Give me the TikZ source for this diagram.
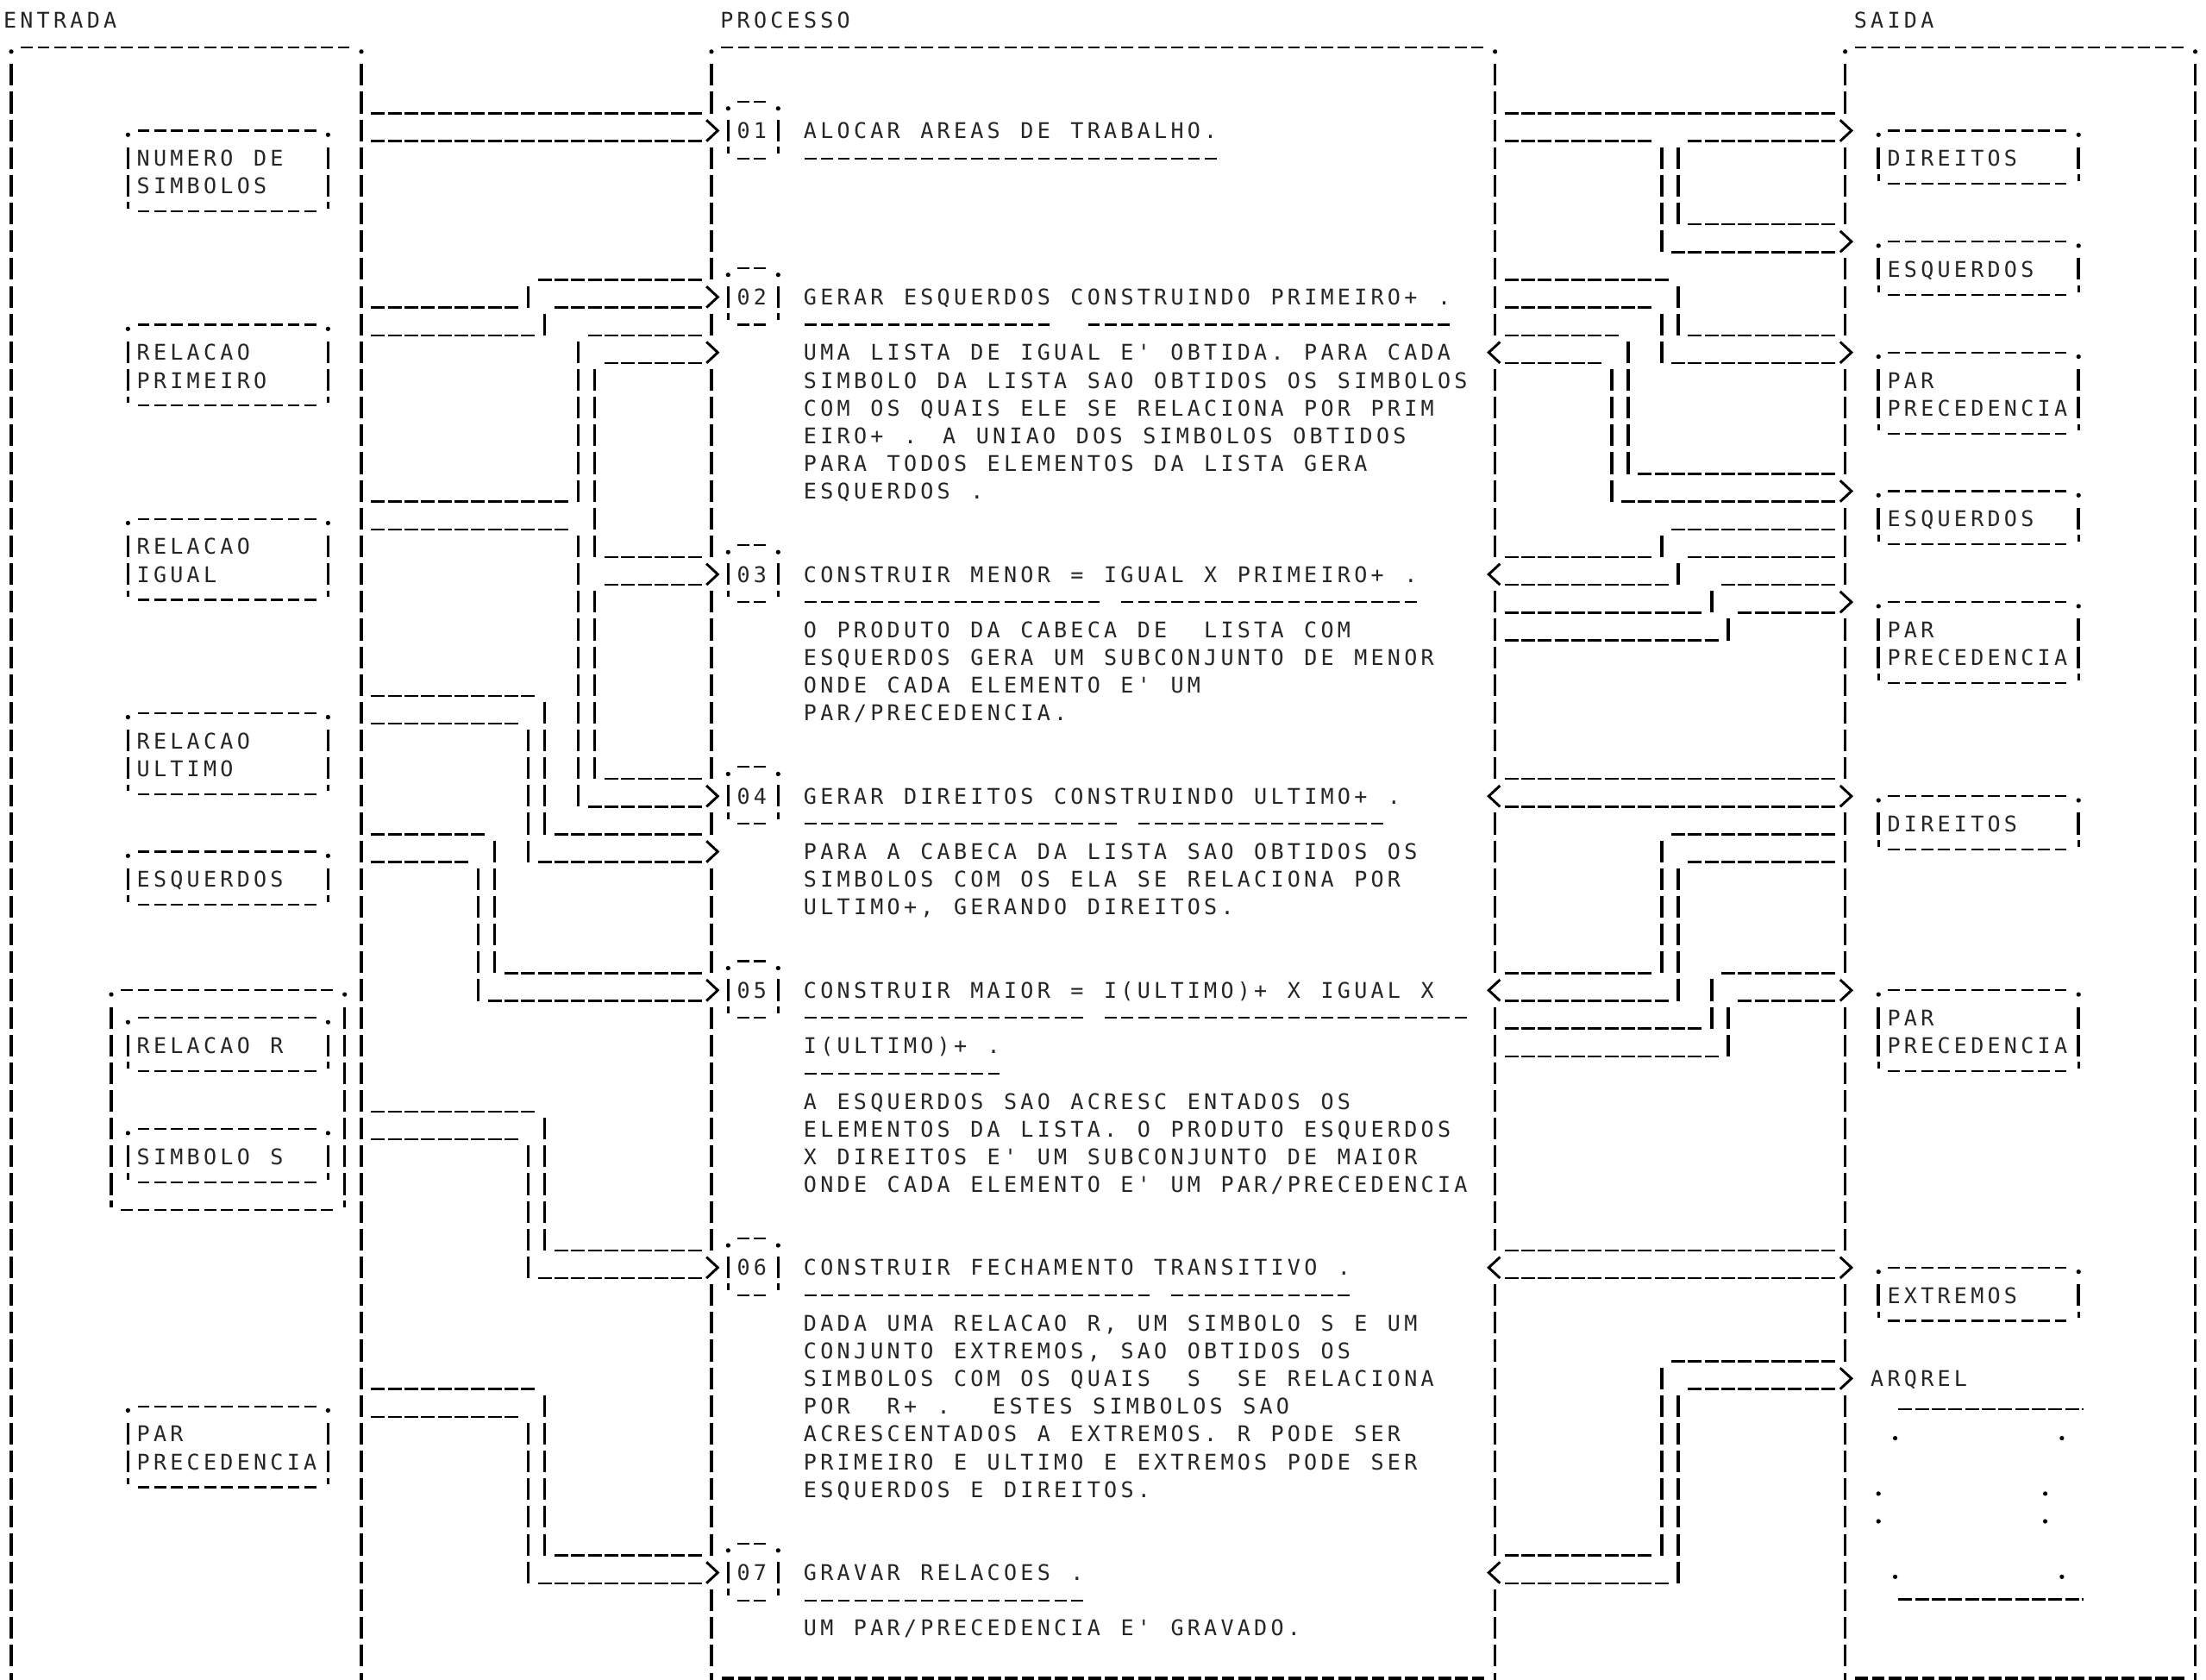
\documentclass[tikz,border=0pt]{standalone}
\usepackage{fontspec}
\newfontfamily\pf[LetterSpace=17]{DejaVu Sans Mono}
\newcommand\XS{\kern5.925pt}
\tikzset{
  vb/.style={line width=1.1pt, dash pattern=on 7.7pt off 2.155pt},
  hu/.style={line width=0.75pt, dash pattern=on 4.9pt off 1.025pt},
  bl/.style={line width=0.65pt, dash pattern=on 4.2pt off 1.725pt},
  heavy/.style={line width=1.3pt, dash pattern=on 4.5pt off 1.425pt},
  chev/.style={line width=0.9pt, line join=miter},
  tk/.style={line width=1pt},
  txt/.style={anchor=base west, inner sep=0pt, text=black!85,
    font={\pf\fontsize{7.68pt}{9.855pt}\selectfont\spaceskip 7.231pt\relax}}
}
% underscore line cols #1..#2 under row #3
\newcommand\HU[3]{\draw[hu] ({#1-0.42},{#3+0.38}) -- ({#2+0.42},{#3+0.38});}
% vertical bars col #1 rows #2..#3
\newcommand\VB[3]{\draw[vb] ({#1},{#2-0.4}) -- ({#1},{#3+0.4});}
\newcommand\RA[2]{\draw[chev] ({#1-0.3},{#2-0.38}) -- ({#1+0.38},{#2}) -- ({#1-0.3},{#2+0.38});}
\newcommand\LA[2]{\draw[chev] ({#1+0.3},{#2-0.38}) -- ({#1-0.38},{#2}) -- ({#1+0.3},{#2+0.38});}
\newcommand\BL[3]{\draw[bl] ({#1-0.42},{#3}) -- ({#2+0.42},{#3});}
\newcommand\DOT[2]{\fill ({#1},{#2}) circle[radius=0.8pt];}
\newcommand\TCK[2]{\draw[tk] ({#1},{#2-0.42}) -- ({#1},{#2-0.18});}
\newcommand\BOX[4]{%
  \BL{#1+1}{#3-1}{#2}%
  \DOT{#1}{#2+0.15}\DOT{#3}{#2+0.15}%
  \VB{#1}{#2+1}{#4-1}\VB{#3}{#2+1}{#4-1}%
  \BL{#1+1}{#3-1}{#4-0.08}%
  \TCK{#1}{#4}\TCK{#3}{#4}}
\newcommand\TX[4]{\node[txt] (#1) at ({#2-0.5},{#3+0.285}) {#4};}
\newcommand\STEP[3]{%
  \DOT{43}{#3-1+0.2}\DOT{46}{#3-1+0.2}%
  \draw[bl] (43.55,{#3-1.05}) -- (45.45,{#3-1.05});%
  \VB{43}{#3}{#3}\VB{46}{#3}{#3}%
  \node[txt] (#1) at (43.5,{#3+0.285}) {#2};%
  \TCK{43}{#3+1}\TCK{46}{#3+1}%
  \draw[bl] (43.55,{#3+1}) -- (45.45,{#3+1});}
\begin{document}
\begin{tikzpicture}[x=5.925pt, y=-9.855pt]
\fill[white] (-0.675,-0.710) rectangle (131.646,59.868);
\useasboundingbox (-0.675,-0.710) rectangle (131.646,59.868);

% ---------- titles ----------
\TX{tEnt}{0}{0}{ENTRADA}
\TX{tPro}{43}{0}{PROCESSO}
\TX{tSai}{111}{0}{SAIDA}

% ---------- frames ----------
\foreach \a/\b in {0/21, 42/89, 110/131}{
  \BL{\a+1}{\b-1}{1}
  \DOT{\a}{1.15}\DOT{\b}{1.15}
}
\VB{0}{2}{59}\VB{21}{2}{59}\VB{131}{2}{59}
\foreach \a/\b in {2/3,5/9,11/11,13/19,21/27,29/29,31/34,36/44,46/55,57/59}{\VB{42}{\a}{\b}}
\foreach \a/\b in {2/11,13/19,21/27,29/34,36/44,46/55,57/59}{\VB{89}{\a}{\b}}
\foreach \a/\b in {2/3,5/7,9/11,13/16,18/20,22/27,29/34,36/44,46/48,50/59}{\VB{110}{\a}{\b}}
\foreach \c in {0,21,42,89,110,131}{\draw[tk] (\c,59.62) -- (\c,59.87);}
\draw[heavy] (42.6,59.8) -- (88.4,59.8);
\draw[heavy] (110.6,59.8) -- (130.4,59.8);

% ---------- input boxes ----------
\BOX{7}{4}{19}{7}
\TX{eNum1}{8}{5}{NUMERO DE}
\TX{eNum2}{8}{6}{SIMBOLOS}
\BOX{7}{11}{19}{14}
\TX{ePri1}{8}{12}{RELACAO}
\TX{ePri2}{8}{13}{PRIMEIRO}
\BOX{7}{18}{19}{21}
\TX{eIgu1}{8}{19}{RELACAO}
\TX{eIgu2}{8}{20}{IGUAL}
\BOX{7}{25}{19}{28}
\TX{eUlt1}{8}{26}{RELACAO}
\TX{eUlt2}{8}{27}{ULTIMO}
\BOX{7}{30}{19}{32}
\TX{eEsq}{8}{31}{ESQUERDOS}
\BOX{6}{35}{20}{43}
\BOX{7}{36}{19}{38}
\TX{eRel}{8}{37}{RELACAO R}
\BOX{7}{40}{19}{42}
\TX{eSim}{8}{41}{SIMBOLO S}
\BOX{7}{50}{19}{53}
\TX{ePar1}{8}{51}{PAR}
\TX{ePar2}{8}{52}{PRECEDENCIA}

% ---------- output boxes ----------
\BOX{112}{4}{124}{6}
\TX{sDir1}{113}{5}{DIREITOS}
\BOX{112}{8}{124}{10}
\TX{sEsq1}{113}{9}{ESQUERDOS}
\BOX{112}{12}{124}{15}
\TX{sPar1a}{113}{13}{PAR}
\TX{sPar1b}{113}{14}{PRECEDENCIA}
\BOX{112}{17}{124}{19}
\TX{sEsq2}{113}{18}{ESQUERDOS}
\BOX{112}{21}{124}{24}
\TX{sPar2a}{113}{22}{PAR}
\TX{sPar2b}{113}{23}{PRECEDENCIA}
\BOX{112}{28}{124}{30}
\TX{sDir2}{113}{29}{DIREITOS}
\BOX{112}{35}{124}{38}
\TX{sPar3a}{113}{36}{PAR}
\TX{sPar3b}{113}{37}{PRECEDENCIA}
\BOX{112}{45}{124}{47}
\TX{sExt}{113}{46}{EXTREMOS}
\TX{sArq}{112}{49}{ARQREL}
% file symbol
\draw[hu] (113.2,50.1) -- (124.3,50.1);
\DOT{113}{51.15}\DOT{123}{51.15}
\DOT{112}{53.15}\DOT{122}{53.15}
\DOT{112}{54.15}\DOT{122}{54.15}
\DOT{113}{56.15}\DOT{123}{56.15}
\draw[hu] (113.2,56.97) -- (124.3,56.97);

% ---------- process steps ----------
\STEP{p01}{01}{4}
\TX{p01t}{48}{4}{ALOCAR AREAS DE TRABALHO.}
\BL{48}{72}{5}

\STEP{p02}{02}{10}
\TX{p02t}{48}{10}{GERAR ESQUERDOS CONSTRUINDO PRIMEIRO+ .}
\BL{48}{62}{11}\BL{65}{86}{11}
\TX{p02a}{48}{12}{UMA LISTA DE IGUAL E' OBTIDA. PARA CADA}
\TX{p02b}{48}{13}{SIMBOLO DA LISTA SAO OBTIDOS OS SIMBOLOS}
\TX{p02c}{48}{14}{COM OS QUAIS ELE SE RELACIONA POR PRIM}
\TX{p02d}{48}{15}{EIRO+ . A UNIAO DOS SIMBOLOS OBTIDOS}
\TX{p02e}{48}{16}{PARA TODOS ELEMENTOS DA LISTA GERA}
\TX{p02f}{48}{17}{ESQUERDOS .}

\STEP{p03}{03}{20}
\TX{p03t}{48}{20}{CONSTRUIR MENOR = IGUAL X PRIMEIRO+ .}
\BL{48}{65}{21}\BL{67}{84}{21}
\TX{p03a}{48}{22}{O PRODUTO DA CABECA DE \XS LISTA COM}
\TX{p03b}{48}{23}{ESQUERDOS GERA UM SUBCONJUNTO DE MENOR}
\TX{p03c}{48}{24}{ONDE CADA ELEMENTO E' UM}
\TX{p03d}{48}{25}{PAR/PRECEDENCIA.}

\STEP{p04}{04}{28}
\TX{p04t}{48}{28}{GERAR DIREITOS CONSTRUINDO ULTIMO+ .}
\BL{48}{66}{29}\BL{68}{82}{29}
\TX{p04a}{48}{30}{PARA A CABECA DA LISTA SAO OBTIDOS OS}
\TX{p04b}{48}{31}{SIMBOLOS COM OS ELA SE RELACIONA POR}
\TX{p04c}{48}{32}{ULTIMO+, GERANDO DIREITOS.}

\STEP{p05}{05}{35}
\TX{p05t}{48}{35}{CONSTRUIR MAIOR = I(ULTIMO)+ X IGUAL X}
\BL{48}{64}{36}\BL{66}{87}{36}
\TX{p05u}{48}{37}{I(ULTIMO)+ .}
\BL{48}{59}{38}
\TX{p05a}{48}{39}{A ESQUERDOS SAO ACRESC ENTADOS OS}
\TX{p05b}{48}{40}{ELEMENTOS DA LISTA. O PRODUTO ESQUERDOS}
\TX{p05c}{48}{41}{X DIREITOS E' UM SUBCONJUNTO DE MAIOR}
\TX{p05d}{48}{42}{ONDE CADA ELEMENTO E' UM PAR/PRECEDENCIA}

\STEP{p06}{06}{45}
\TX{p06t}{48}{45}{CONSTRUIR FECHAMENTO TRANSITIVO .}
\BL{48}{68}{46}\BL{70}{80}{46}
\TX{p06a}{48}{47}{DADA UMA RELACAO R, UM SIMBOLO S E UM}
\TX{p06b}{48}{48}{CONJUNTO EXTREMOS, SAO OBTIDOS OS}
\TX{p06c}{48}{49}{SIMBOLOS COM OS QUAIS \XS S \XS SE RELACIONA}
\TX{p06d}{48}{50}{POR \XS R+ . \XS ESTES SIMBOLOS SAO}
\TX{p06e}{48}{51}{ACRESCENTADOS A EXTREMOS. R PODE SER}
\TX{p06f}{48}{52}{PRIMEIRO E ULTIMO E EXTREMOS PODE SER}
\TX{p06g}{48}{53}{ESQUERDOS E DIREITOS.}

\STEP{p07}{07}{56}
\TX{p07t}{48}{56}{GRAVAR RELACOES .}
\BL{48}{64}{57}
\TX{p07a}{48}{58}{UM PAR/PRECEDENCIA E' GRAVADO.}

% ---------- input arrows ----------
% NUMERO DE SIMBOLOS -> 01
\HU{22}{41}{3}\HU{22}{41}{4}\RA{42}{4}
% PRIMEIRO -> 02
\HU{22}{30}{10}\VB{31}{10}{10}\HU{32}{41}{9}
\HU{22}{31}{11}\VB{32}{11}{11}\HU{33}{41}{10}\RA{42}{10}
% IGUAL -> 02 / 03 / 04
\HU{22}{33}{17}\VB{34}{12}{17}\HU{35}{41}{11}\RA{42}{12}
\HU{36}{41}{12}\VB{35}{13}{19}\HU{36}{41}{19}\RA{42}{20}
\HU{36}{41}{20}\VB{35}{21}{27}\HU{36}{41}{27}\RA{42}{28}
\HU{22}{33}{18}\VB{34}{19}{28}\HU{35}{41}{28}
% ULTIMO -> 04
\HU{22}{31}{24}\VB{32}{25}{29}\HU{33}{41}{29}
\HU{22}{30}{25}\VB{31}{26}{30}\HU{32}{41}{30}\RA{42}{30}
% ESQUERDOS -> 05
\HU{22}{28}{29}\VB{29}{30}{34}\HU{30}{41}{34}
\HU{22}{27}{30}\VB{28}{31}{35}\HU{29}{41}{35}\RA{42}{35}
% R, S -> 06
\HU{22}{31}{39}\VB{32}{40}{44}\HU{33}{41}{44}
\HU{22}{30}{40}\VB{31}{41}{45}\HU{32}{41}{45}\RA{42}{45}
% PAR PRECEDENCIA -> 07
\HU{22}{31}{49}\VB{32}{50}{55}\HU{33}{41}{55}
\HU{22}{30}{50}\VB{31}{51}{56}\HU{32}{41}{56}\RA{42}{56}

% ---------- output arrows ----------
% 01 -> DIREITOS, ESQUERDOS
\HU{90}{109}{3}\HU{90}{98}{4}\HU{101}{109}{4}\RA{110}{4}
\VB{99}{5}{8}\HU{100}{109}{8}\VB{100}{5}{7}\HU{101}{109}{7}\RA{110}{8}
% 02 -> PAR PRECEDENCIA
\HU{90}{99}{9}\VB{100}{10}{11}\HU{101}{109}{11}
\HU{90}{98}{10}\VB{99}{11}{12}\HU{100}{109}{12}\RA{110}{12}
% 02 <-> ESQUERDOS
\LA{89}{12}\HU{90}{96}{11}\VB{97}{12}{16}\HU{98}{109}{16}
\HU{90}{95}{12}\VB{96}{13}{17}\HU{97}{109}{17}\RA{110}{17}
% ESQUERDOS -> 03
\HU{100}{109}{18}\VB{99}{19}{19}\HU{90}{98}{19}
\HU{101}{109}{19}\VB{100}{20}{20}\HU{90}{99}{20}\LA{89}{20}
% 03 -> PAR PRECEDENCIA
\HU{103}{109}{20}\VB{102}{21}{21}\HU{90}{101}{21}
\HU{104}{109}{21}\VB{103}{22}{22}\HU{90}{102}{22}\RA{110}{21}
% 04 <-> DIREITOS
\HU{90}{109}{27}\HU{90}{109}{28}\LA{89}{28}\RA{110}{28}
% DIREITOS -> 05
\HU{100}{109}{29}\VB{99}{30}{34}\HU{90}{98}{34}
\HU{101}{109}{30}\VB{100}{31}{35}\HU{90}{99}{35}\LA{89}{35}
% 05 -> PAR PRECEDENCIA
\HU{103}{109}{34}\VB{102}{35}{36}\HU{90}{101}{36}
\HU{104}{109}{35}\VB{103}{36}{37}\HU{90}{102}{37}\RA{110}{35}
% 06 <-> EXTREMOS
\HU{90}{109}{44}\HU{90}{109}{45}\LA{89}{45}\RA{110}{45}
% 07 <-> ARQREL
\HU{100}{109}{48}\VB{99}{49}{55}\HU{90}{98}{55}
\HU{101}{109}{49}\VB{100}{50}{56}\HU{90}{99}{56}\LA{89}{56}\RA{110}{49}
\end{tikzpicture}
\end{document}
